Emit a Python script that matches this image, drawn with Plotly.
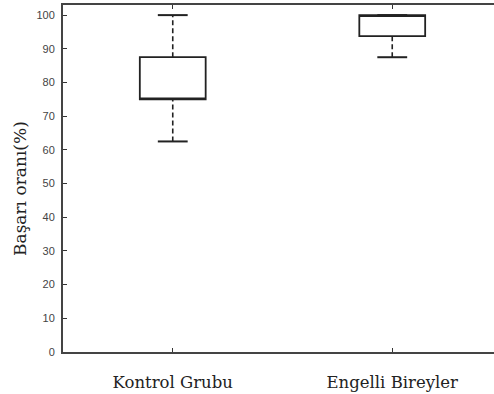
import plotly.graph_objects as go

categories = ["Kontrol Grubu", "Engelli Bireyler"]
q1 = [75, 93.75]
median = [75, 100]
q3 = [87.5, 100]
lower_whisker = [62.5, 87.5]
upper_whisker = [100, 100]
y_ticks = [0, 10, 20, 30, 40, 50, 60, 70, 80, 90, 100]
y_title = "Başarı oranı(%)"

xpos = [1, 2]
half_box = 0.15
half_cap = 0.068

fig = go.Figure()

# boxes (no whiskers; drawn separately as dashed lines)
fig.add_trace(go.Box(
    x=xpos, q1=q1, median=median, q3=q3,
    lowerfence=q1, upperfence=q3,
    width=2 * half_box,
    fillcolor="white",
    line=dict(color="#222", width=1.8),
    boxpoints=False, showlegend=False, hoverinfo="skip",
))

# dashed whiskers
for i, xc in enumerate(xpos):
    fig.add_trace(go.Scatter(
        x=[xc, xc, None, xc, xc],
        y=[lower_whisker[i], q1[i], None, q3[i], upper_whisker[i]],
        mode="lines", line=dict(color="#222", width=1.6, dash="5px,3px"),
        showlegend=False, hoverinfo="skip",
    ))
    fig.add_trace(go.Scatter(
        x=[xc - half_cap, xc + half_cap, None, xc - half_cap, xc + half_cap],
        y=[lower_whisker[i], lower_whisker[i], None, upper_whisker[i], upper_whisker[i]],
        mode="lines", line=dict(color="#222", width=2),
        showlegend=False, hoverinfo="skip",
    ))

fig.update_layout(
    width=494, height=394,
    margin=dict(l=63, r=0, t=5, b=42),
    plot_bgcolor="white", paper_bgcolor="white",
    showlegend=False,
    xaxis=dict(
        range=[0.5, 2.4636],
        tickvals=xpos, ticktext=categories,
        ticks="inside", ticklen=4, tickcolor="#333",
        showline=True, linecolor="#444", linewidth=2,
        mirror="ticks", showgrid=False, zeroline=False,
        tickfont=dict(family="DejaVu Serif", size=16.5, color="#222"),
        ticklabelstandoff=14,
        automargin=False,
    ),
    yaxis=dict(
        range=[0, 103],
        tickvals=y_ticks,
        ticks="inside", ticklen=4, tickcolor="#333",
        showline=True, linecolor="#444", linewidth=2,
        showgrid=False, zeroline=False,
        tickfont=dict(family="Liberation Sans", size=11, color="#444"),
        ticklabelstandoff=4,
        automargin=False,
    ),
    annotations=[dict(
        text=y_title, xref="paper", yref="paper",
        x=-0.0998, y=0.4726, xanchor="center", yanchor="middle",
        textangle=-90, showarrow=False,
        font=dict(family="DejaVu Serif", size=17, color="#222"),
    )],
)

fig.write_html("out.html",
               config={"displayModeBar": False},
               post_script="document.body.style.margin='0';document.body.style.padding='0';")
